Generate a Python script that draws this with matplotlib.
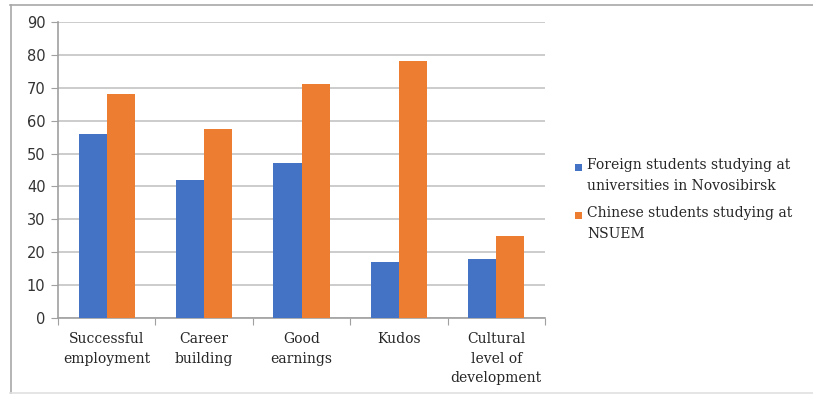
import matplotlib
matplotlib.use("Agg")
import matplotlib.pyplot as plt
from matplotlib.lines import Line2D
from matplotlib.patches import Rectangle
import numpy as np

categories = ["Successful\nemployment", "Career\nbuilding", "Good\nearnings",
              "Kudos", "Cultural\nlevel of\ndevelopment"]
foreign = [56, 42, 47, 17, 18]
chinese = [68, 57.5, 71, 78, 25]
series_names = ["Foreign students studying at\nuniversities in Novosibirsk",
                "Chinese students studying at\nNSUEM"]
y_ticks = [0, 10, 20, 30, 40, 50, 60, 70, 80, 90]

BLUE = "#4472C4"
ORANGE = "#ED7D31"
GRID = "#C8C8C8"
TEXT = "#262626"
SERIF = "DejaVu Serif"

W, H = 813, 394
fig = plt.figure(figsize=(W / 100, H / 100), dpi=100)

ax = fig.add_axes([58 / W, 1 - 318 / H, (545 - 58) / W, (318 - 22) / H])

x = np.arange(len(categories))
bw = 0.288
ax.bar(x - bw / 2, foreign, width=bw, color=BLUE, zorder=3)
ax.bar(x + bw / 2, chinese, width=bw, color=ORANGE, zorder=3)

ax.set_xlim(-0.5, len(categories) - 0.5)
ax.set_ylim(0, 90)
ax.set_yticks(y_ticks)
ax.yaxis.grid(True, color=GRID, linewidth=1.3, zorder=0)
ax.set_axisbelow(True)

for side in ("top", "right"):
    ax.spines[side].set_visible(False)
for side in ("left", "bottom"):
    ax.spines[side].set_color("#A0A0A0")
    ax.spines[side].set_linewidth(1.2)

ax.tick_params(axis="y", length=5, color="#A0A0A0", labelsize=10.5,
               labelcolor="#333333", pad=4)
ax.set_yticklabels([str(v) for v in y_ticks], family="DejaVu Sans")

# category boundaries carry the x tick marks; labels sit at the centres
ax.set_xticks(np.arange(-0.5, len(categories), 1.0))
ax.set_xticklabels([])
ax.tick_params(axis="x", length=5, color="#A0A0A0")
for xi, label in zip(x, categories):
    ax.text(xi, -4.3, label, ha="center", va="top", fontsize=10,
            family=SERIF, color=TEXT, linespacing=1.5,
            transform=ax.transData)

# legend: square key aligned with the first text line of each entry
legend_rows = [(167, BLUE), (215, ORANGE)]
for (ypix, color), name in zip(legend_rows, series_names):
    fig.add_artist(Rectangle((575 / W, 1 - (ypix + 3.5) / H), 7 / W, 7 / H,
                             transform=fig.transFigure, facecolor=color,
                             edgecolor="none"))
    fig.text(587 / W, 1 - (ypix - 9) / H, name, ha="left", va="top",
             fontsize=10, family=SERIF, color=TEXT, linespacing=1.6)

# outer chart frame
fig.add_artist(Line2D([10.5 / W, 10.5 / W], [0, 1 - 5 / H], transform=fig.transFigure,
                      color="#A8A8A8", linewidth=1.2))
fig.add_artist(Line2D([10 / W, 1], [1 - 5 / H, 1 - 5 / H], transform=fig.transFigure,
                      color="#A8A8A8", linewidth=1.2))
fig.add_artist(Line2D([10 / W, 1], [1 - 393 / H, 1 - 393 / H], transform=fig.transFigure,
                      color="#E0E0E0", linewidth=1.2))

fig.savefig("out.png", dpi=100)
